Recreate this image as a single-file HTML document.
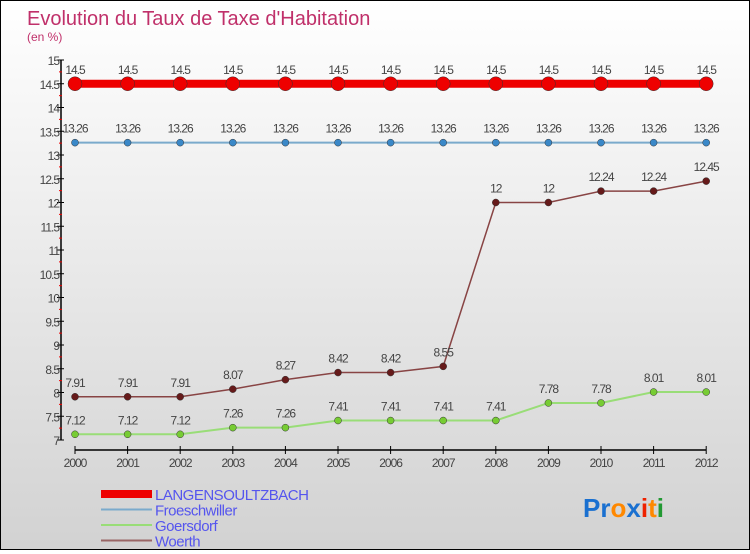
<!DOCTYPE html>
<html><head><meta charset="utf-8"><style>
body{margin:0;width:750px;height:550px;overflow:hidden;font-family:"Liberation Sans",sans-serif}
#c{position:absolute;left:0;top:0;width:748px;height:548px;border:1px solid #000;background:linear-gradient(#ffffff,#d2d2d2)}
</style></head><body>
<div id="c">
<svg id="s" width="748" height="548" xmlns="http://www.w3.org/2000/svg">
<text x="26" y="24" font-size="20" fill="#c0306a">Evolution du Taux de Taxe d'Habitation</text>
<text x="26" y="40" font-size="12" fill="#c0306a">(en %)</text>
<g id="g"></g>
</svg></div>
<script>
const years=[2000,2001,2002,2003,2004,2005,2006,2007,2008,2009,2010,2011,2012];
const langen=[14.5,14.5,14.5,14.5,14.5,14.5,14.5,14.5,14.5,14.5,14.5,14.5,14.5];
const froesch=[13.26,13.26,13.26,13.26,13.26,13.26,13.26,13.26,13.26,13.26,13.26,13.26,13.26];
const goers=[7.12,7.12,7.12,7.26,7.26,7.41,7.41,7.41,7.41,7.78,7.78,8.01,8.01];
const woerth=[7.91,7.91,7.91,8.07,8.27,8.42,8.42,8.55,12,12,12.24,12.24,12.45];
const yTicks=[7,7.5,8,8.5,9,9.5,10,10.5,11,11.5,12,12.5,13,13.5,14,14.5,15];
const g=document.getElementById('g');const NS='http://www.w3.org/2000/svg';
const X=i=>74+i*52.6, Y=v=>439-(v-7)*47.5;
function mk(t,a){const e=document.createElementNS(NS,t);for(const k in a)e.setAttribute(k,a[k]);g.appendChild(e);return e;}
let e=mk('line',{x1:60,y1:Y(15),x2:60,y2:Y(7),stroke:'#000','stroke-width':1.5});


e=mk('line',{x1:X(0),y1:449,x2:X(12),y2:449,stroke:'#000','stroke-width':1.5});


yTicks.forEach((v,i)=>{
 const t=mk('line',{x1:56,y1:Y(v),x2:63,y2:Y(v),stroke:'#000'});
 
 
 if(i<yTicks.length-1){const m=mk('line',{x1:58,y1:Y(v+0.25),x2:61,y2:Y(v+0.25),stroke:'#e00'});
 
 }
 const l=mk('text',{x:58,y:Y(v)+5,'font-size':12,'text-anchor':'end',fill:'#444','letter-spacing':'-1'});l.textContent=v;
 
 
});
years.forEach((y,i)=>{
 const t=mk('line',{x1:X(i),y1:445,x2:X(i),y2:453,stroke:'#000'});
 
 
 const l=mk('text',{x:X(i),y:466,'font-size':12,'text-anchor':'middle',fill:'#444','letter-spacing':'-1'});l.textContent=y;
 
 
});
function series(d,name,col,dot,w,r){
 const p=mk('polyline',{points:d.map((v,i)=>X(i)+','+Y(v)).join(' '),fill:'none',stroke:col,'stroke-width':w});
 
 
 d.forEach((v,i)=>{
  const c=mk('circle',{cx:X(i),cy:Y(v),r:r,fill:dot,stroke:'#333','stroke-width':0.5});
  
  
  const l=mk('text',{x:X(i),y:Y(v)-10,'font-size':12,'text-anchor':'middle',fill:'#444','letter-spacing':'-1'});l.textContent=v;
  
  
 });
}
series(langen,'langensoultzbach','#ee0000','#ee0000',8,7);
series(froesch,'froeschwiller','#7aaacc','#3a88c8',2,3.5);
series(goers,'goersdorf','#99dd77','#77cc33',2,3.5);
series(woerth,'woerth','#884444','#661a1a',1.5,3.5);
const leg=[['LANGENSOULTZBACH','#ee0000',8],['Froeschwiller','#7aaacc',2],['Goersdorf','#99dd77',2],['Woerth','#996666',2]];
leg.forEach((L,i)=>{const y=493+i*15.5;
 const ln=mk('line',{x1:100,y1:y,x2:151,y2:y,stroke:L[1],'stroke-width':L[2]});
 
 
 const t=mk('text',{x:154,y:y+6,'font-size':15,fill:'#5555ee','letter-spacing':'-0.5'});t.textContent=L[0];
 
 
});
const lo=mk('text',{x:582,y:516,'font-size':26,'font-weight':'bold'});


[['Pr','#1a70d0'],['o','#ff8800'],['x','#1a70d0'],['i','#ee2200'],['t','#ff8800'],['i','#229933']].forEach(a=>{const s=document.createElementNS(NS,'tspan');s.setAttribute('fill',a[1]);s.textContent=a[0];lo.appendChild(s);});
</script>
</body></html>
